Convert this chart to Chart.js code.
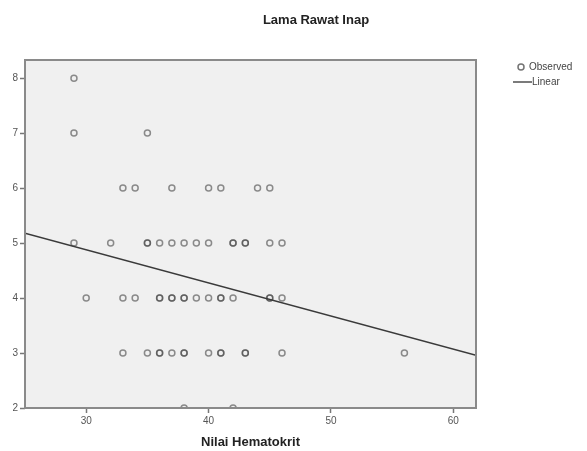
<!DOCTYPE html>
<html>
<head>
<meta charset="utf-8">
<script src="https://cdn.jsdelivr.net/npm/chart.js@4"></script>
<style>
  body { margin: 0; background: #fff; }
</style>
</head>
<body>
<canvas id="scatterChart" width="587" height="451"></canvas>
<script>
const ctx = document.getElementById("scatterChart").getContext("2d");

// Observed points (Nilai Hematokrit, Lama Rawat Inap) - repeated values = darker circles
const obsX = [
  29,
  29, 35,
  33, 34, 37, 40, 41, 44, 45,
  29, 32, 35, 35, 36, 37, 38, 39, 40, 42, 42, 43, 43, 45, 46,
  30, 33, 34, 36, 36, 37, 37, 38, 38, 39, 40, 41, 41, 42, 45, 45, 46,
  33, 35, 36, 36, 37, 38, 38, 40, 41, 41, 43, 43, 46, 56,
  38, 42,
];
const obsY = [
  8,
  7, 7,
  6, 6, 6, 6, 6, 6, 6,
  5, 5, 5, 5, 5, 5, 5, 5, 5, 5, 5, 5, 5, 5, 5,
  4, 4, 4, 4, 4, 4, 4, 4, 4, 4, 4, 4, 4, 4, 4, 4, 4,
  3, 3, 3, 3, 3, 3, 3, 3, 3, 3, 3, 3, 3, 3,
  2, 2,
];

// Linear fit line, end points
const lineX = [25, 61.85];
const lineY = [5.18, 2.96];

const xTicks = [30, 40, 50, 60];
const yTicks = [2, 3, 4, 5, 6, 7, 8];

const chartTitle = "Lama Rawat Inap";
const xTitle = "Nilai Hematokrit";
const legendLabels = ["Observed", "Linear"];

const FONT = "'Liberation Sans', Arial, sans-serif";

// background + frame of the plot area, title and legend
const spssLook = {
  id: "spssLook",
  beforeDatasetsDraw(chart) {
    const { ctx, chartArea: a } = chart;
    ctx.save();
    ctx.fillStyle = "#f0f0f0";
    ctx.fillRect(a.left, a.top, a.right - a.left, a.bottom - a.top);
    ctx.restore();
  },
  afterDraw(chart) {
    const { ctx, chartArea: a } = chart;
    ctx.save();
    ctx.strokeStyle = "#8a8a8a";
    ctx.lineWidth = 2;
    ctx.strokeRect(a.left, a.top, a.right - a.left, a.bottom - a.top);

    // title
    ctx.fillStyle = "#222";
    ctx.font = "bold 13px " + FONT;
    ctx.textAlign = "center";
    ctx.textBaseline = "middle";
    ctx.fillText(chartTitle, 316, 20);

    // legend
    ctx.textAlign = "left";
    ctx.font = "10px " + FONT;
    ctx.fillStyle = "#444";
    ctx.strokeStyle = "rgba(70,70,70,0.75)";
    ctx.lineWidth = 1.5;
    ctx.beginPath();
    ctx.arc(521, 67, 3, 0, Math.PI * 2);
    ctx.stroke();
    ctx.fillText(legendLabels[0], 529, 67);
    ctx.strokeStyle = "#333";
    ctx.lineWidth = 1.3;
    ctx.beginPath();
    ctx.moveTo(513, 82);
    ctx.lineTo(532, 82);
    ctx.stroke();
    ctx.fillText(legendLabels[1], 532, 82);
    ctx.restore();
  },
};

new Chart(ctx, {
  type: "scatter",
  data: {
    datasets: [
      {
        label: legendLabels[0],
        data: obsX.map((x, i) => ({ x: x, y: obsY[i] })),
        pointRadius: 3,
        pointHoverRadius: 3,
        pointBorderWidth: 1.5,
        pointBackgroundColor: "rgba(0,0,0,0)",
        pointBorderColor: "rgba(70,70,70,0.6)",
        clip: 0,
        order: 2,
      },
      {
        type: "line",
        label: legendLabels[1],
        data: lineX.map((x, i) => ({ x: x, y: lineY[i] })),
        borderColor: "#3a3a3a",
        borderWidth: 1.5,
        pointRadius: 0,
        fill: false,
        clip: 0,
        order: 1,
      },
    ],
  },
  options: {
    responsive: false,
    animation: false,
    layout: {
      padding: { top: 60, right: 111, bottom: 0, left: 0 },
    },
    plugins: {
      legend: { display: false },
      title: { display: false },
      tooltip: { enabled: false },
    },
    scales: {
      x: {
        type: "linear",
        min: 25,
        max: 61.85,
        afterFit(scale) {
          scale.height = 43;
        },
        afterBuildTicks(scale) {
          scale.ticks = xTicks.map((v) => ({ value: v }));
        },
        grid: {
          drawOnChartArea: false,
          drawTicks: true,
          tickLength: 5,
          tickColor: "#777",
          tickWidth: 1.5,
        },
        border: { display: false },
        ticks: {
          padding: 2,
          color: "#555",
          font: { family: FONT, size: 10 },
        },
        title: {
          display: true,
          text: xTitle,
          color: "#222",
          padding: { top: 0, bottom: 1 },
          font: { family: FONT, size: 13, weight: "bold" },
        },
      },
      y: {
        type: "linear",
        min: 2,
        max: 8.33,
        afterFit(scale) {
          scale.width = 25;
        },
        afterBuildTicks(scale) {
          scale.ticks = yTicks.map((v) => ({ value: v }));
        },
        grid: {
          drawOnChartArea: false,
          drawTicks: true,
          tickLength: 5,
          tickColor: "#777",
          tickWidth: 1.5,
        },
        border: { display: false },
        ticks: {
          padding: 2,
          color: "#555",
          font: { family: FONT, size: 10 },
        },
      },
    },
  },
  plugins: [spssLook],
});
</script>
</body>
</html>
